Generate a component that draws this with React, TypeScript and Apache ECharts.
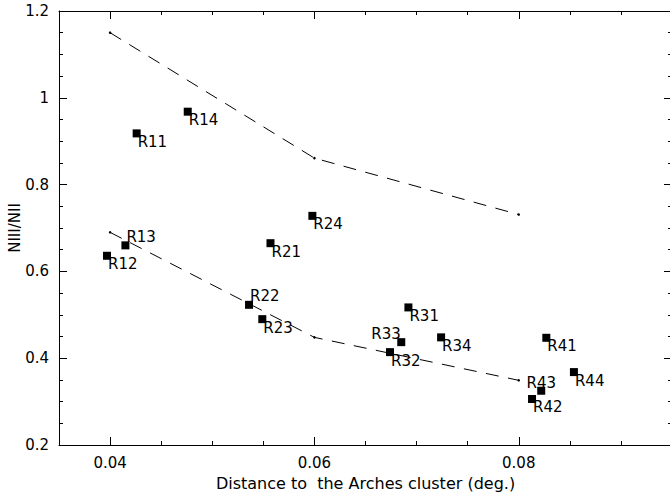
import React, { useEffect, useRef } from "react";
import * as echarts from "echarts";

const pointNames = ["R11", "R12", "R13", "R14", "R21", "R22", "R23", "R24", "R31", "R32", "R33", "R34", "R41", "R42", "R43", "R44"];
const pointX = [0.0426, 0.0397, 0.0415, 0.0476, 0.0557, 0.0536, 0.0549, 0.0598, 0.0692, 0.0674, 0.0685, 0.0724, 0.0827, 0.0813, 0.0822, 0.0854];
const pointY = [0.918, 0.636, 0.660, 0.968, 0.665, 0.523, 0.490, 0.728, 0.517, 0.414, 0.437, 0.448, 0.447, 0.306, 0.325, 0.368];
// label placement keys: br = below-right, tr = above-right, tl = above-left, tc = above-centre
const labelSide = ["br", "br", "tr", "br", "br", "tr", "br", "br", "br", "br", "tl", "br", "br", "br", "tc", "br"];

const curveX = [0.04, 0.06, 0.08];
const upperCurveY = [1.15, 0.861, 0.731];
const lowerCurveY = [0.69, 0.448, 0.349];

const xMajorTicks = [0.04, 0.06, 0.08];
const xMinorTicks = [0.045, 0.05, 0.055, 0.065, 0.07, 0.075, 0.085, 0.09];

const FONT = "DejaVu Sans";

function labelFor(side: string) {
  const base = { show: true, fontFamily: FONT, fontSize: 15, color: "#000" };
  if (side === "tr") return { ...base, position: [5, 3], align: "left", verticalAlign: "bottom" };
  if (side === "tl") return { ...base, position: [3.5, 3], align: "right", verticalAlign: "bottom" };
  if (side === "tc") return { ...base, position: [4, 3.5], align: "center", verticalAlign: "bottom" };
  return { ...base, position: [5, 5], align: "left", verticalAlign: "top" };
}

export default function App() {
  const ref = useRef<HTMLDivElement>(null);
  useEffect(() => {
    if (!ref.current) return;
    const chart = echarts.init(ref.current, null, { renderer: "svg" });
    const axisLine = { show: true, onZero: false, lineStyle: { color: "#000", width: 1 } };
    const txt = { fontFamily: FONT, fontSize: 15, color: "#000" };
    const xBase = { type: "value", min: 0.035, max: 0.095, splitLine: { show: false } };
    const yBase = { type: "value", min: 0.2, max: 1.2, interval: 0.2, splitLine: { show: false } };
    const option: any = {
      animation: false,
      backgroundColor: "#fff",
      grid: { left: 59, top: 11, width: 613, height: 434, containLabel: false, outerBoundsMode: "none" },
      xAxis: [
        {
          ...xBase,
          position: "bottom",
          axisLine,
          axisTick: { show: true, inside: true, length: 8, customValues: xMajorTicks, lineStyle: { color: "#000" } },
          axisLabel: { show: true, customValues: xMajorTicks, margin: 10, ...txt },
          name: "Distance to  the Arches cluster (deg.)",
          nameLocation: "middle",
          nameGap: 30,
          nameMoveOverlap: false,
          nameTextStyle: { ...txt, fontSize: 16 },
        },
        {
          ...xBase,
          position: "bottom",
          axisLine: { show: false },
          axisTick: { show: true, inside: true, length: 4, customValues: xMinorTicks, lineStyle: { color: "#000" } },
          axisLabel: { show: false },
        },
        {
          ...xBase,
          position: "top",
          axisLine,
          axisTick: { show: true, inside: true, length: 8, customValues: xMajorTicks, lineStyle: { color: "#000" } },
          axisLabel: { show: false },
        },
        {
          ...xBase,
          position: "top",
          axisLine: { show: false },
          axisTick: { show: true, inside: true, length: 4, customValues: xMinorTicks, lineStyle: { color: "#000" } },
          axisLabel: { show: false },
        },
      ],
      yAxis: [
        {
          ...yBase,
          position: "left",
          axisLine,
          axisTick: { show: true, inside: true, length: 8, lineStyle: { color: "#000" } },
          minorTick: { show: true, splitNumber: 4, length: 4, lineStyle: { color: "#000" } },
          axisLabel: { show: true, margin: 10, ...txt },
          name: "NIII/NII",
          nameLocation: "middle",
          nameGap: 37,
          nameRotate: 90,
          nameMoveOverlap: false,
          nameTextStyle: txt,
        },
        {
          ...yBase,
          position: "right",
          axisLine,
          axisTick: { show: true, inside: true, length: 8, lineStyle: { color: "#000" } },
          minorTick: { show: true, splitNumber: 4, length: 4, lineStyle: { color: "#000" } },
          axisLabel: { show: false },
        },
      ],
      series: [
        {
          type: "line",
          data: curveX.map((x, i) => [x, upperCurveY[i]]),
          symbol: "circle",
          symbolSize: 2.5,
          showSymbol: true,
          itemStyle: { color: "#000" },
          lineStyle: { color: "#000", width: 1, type: [13, 9.5] },
        },
        {
          type: "line",
          data: curveX.map((x, i) => [x, lowerCurveY[i]]),
          symbol: "circle",
          symbolSize: 2.5,
          showSymbol: true,
          itemStyle: { color: "#000" },
          lineStyle: { color: "#000", width: 1, type: [13, 9.5] },
        },
        {
          type: "scatter",
          symbol: "rect",
          symbolSize: 8,
          itemStyle: { color: "#000", opacity: 1 },
          data: pointNames.map((n, i) => ({
            name: n,
            value: [pointX[i], pointY[i]],
            label: { ...labelFor(labelSide[i]), formatter: n },
          })),
        },
      ],
    };
    chart.setOption(option);
    return () => chart.dispose();
  }, []);
  return <div ref={ref} style={{ position: "fixed", left: 0, top: 0, width: 670, height: 495 }} />;
}
